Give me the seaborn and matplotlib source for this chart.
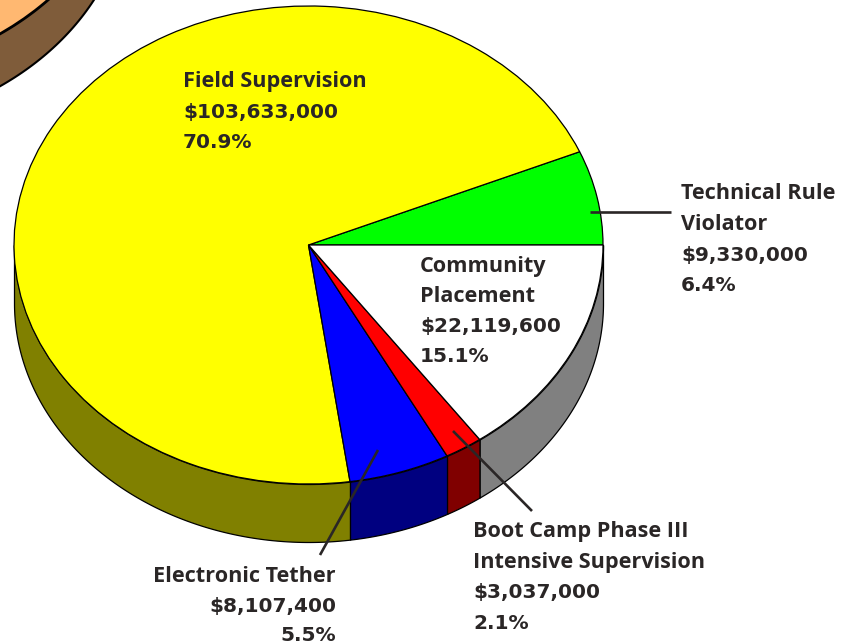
import numpy as np
import seaborn as sns
import matplotlib
matplotlib.use("Agg")
import matplotlib.pyplot as plt

# Slice data, in drawing order from 3 o'clock going counter clockwise
programs = ["Technical Rule Violator", "Field Supervision", "Electronic Tether",
            "Boot Camp Phase III Intensive Supervision", "Community Placement"]
budget = [9330000, 103633000, 8107400, 3037000, 22119600]
percent_labels = ["6.4%", "70.9%", "5.5%", "2.1%", "15.1%"]
dollar_labels = ["$9,330,000", "$103,633,000", "$8,107,400", "$3,037,000", "$22,119,600"]
top_colors = ["#00FF00", "#FFFF00", "#0000FF", "#FF0000", "#FFFFFF"]
side_colors = ["#008000", "#808000", "#000080", "#800000", "#808080"]

# The neighbouring pie cut off in the top left corner
other_pie = [1]
other_top = ["#FFB871"]
other_side = ["#7F5C3A"]

sns.set_theme(style="white")
plt.rcParams['font.family'] = ['Open Sans', 'DejaVu Sans']

W, H = 853, 644
CX, CY, RX, RY = 308.5, 245, 294.5, 239
TEXT_COLOR = "#2A2626"


# pixel position in the picture -> data coords (pie radius is 1)
def px(x, y):
    return (x - CX) / RX, (CY - y) / RY


def draw_wall(ax, wedge, color, depth, lw=1.0):
    # only the front half of a slice shows a side wall
    a1 = max(wedge.theta1, 180)
    a2 = min(wedge.theta2, 360)
    if a2 <= a1:
        return
    cx, cy = wedge.center
    r = wedge.r
    t = np.radians(np.linspace(a1, a2, 200))
    x = cx + r * np.cos(t)
    y = cy + r * np.sin(t)
    ax.fill_between(x, y, y - depth, facecolor=color, edgecolor="black", linewidth=lw, zorder=1)


fig = plt.figure(figsize=(W / 100, H / 100), dpi=100)
ax = fig.add_axes([0, 0, 1, 1])

other_wedges, _ = ax.pie(other_pie, colors=other_top, center=px(-172, -166), radius=300 / RX,
                         wedgeprops=dict(edgecolor="black", linewidth=1.5, zorder=2))
for w in other_wedges:
    draw_wall(ax, w, other_side[0], 52 / RY, lw=1.5)

wedges, _ = ax.pie(budget, colors=top_colors, startangle=0, counterclock=True,
                   wedgeprops=dict(edgecolor="black", linewidth=0.9, zorder=2))
for w, c in zip(wedges, side_colors):
    draw_wall(ax, w, c, 58 / RY, lw=0.9)

# pie() forces a round pie, squash it back to the tilted look
ax.set_aspect("auto")
ax.set_xlim(-CX / RX, (W - CX) / RX)
ax.set_ylim((CY - H) / RY, CY / RY)
ax.axis("off")

# Leader lines
leaders = [((590, 212), (671, 212)), ((453, 431), (532, 511)), ((378, 450), (320, 555))]
for a, b in leaders:
    p, q = px(*a), px(*b)
    ax.plot([p[0], q[0]], [p[1], q[1]], color=TEXT_COLOR, linewidth=1.9, zorder=5, solid_capstyle="butt")

# Labels: each line with its own baseline
label_lines = [
    (["Technical Rule", "Violator", dollar_labels[0], percent_labels[0]], 681, [199, 230, 261, 291], "left"),
    (["Field Supervision", dollar_labels[1], percent_labels[1]], 183, [87, 118, 148], "left"),
    (["Electronic Tether", dollar_labels[2], percent_labels[2]], 336, [582, 612, 641], "right"),
    (["Boot Camp Phase III", "Intensive Supervision", dollar_labels[3], percent_labels[3]], 473, [537, 568, 598, 629], "left"),
    (["Community", "Placement", dollar_labels[4], percent_labels[4]], 420, [272, 302, 332, 362], "left"),
]
for lines, x, baselines, ha in label_lines:
    for line, y in zip(lines, baselines):
        tx, ty = px(x, y)
        # the numbers run wider than the words in the original lettering
        numeric = line[0] == "$" or line[-1] == "%"
        ax.text(tx, ty, line, ha=ha, va="baseline", fontweight="bold", color=TEXT_COLOR, zorder=6,
                fontsize=14.5 if numeric else 15.6,
                family=["DejaVu Sans"] if numeric else ["Open Sans", "DejaVu Sans"])

fig.savefig("out.png", dpi=100, facecolor="white")
